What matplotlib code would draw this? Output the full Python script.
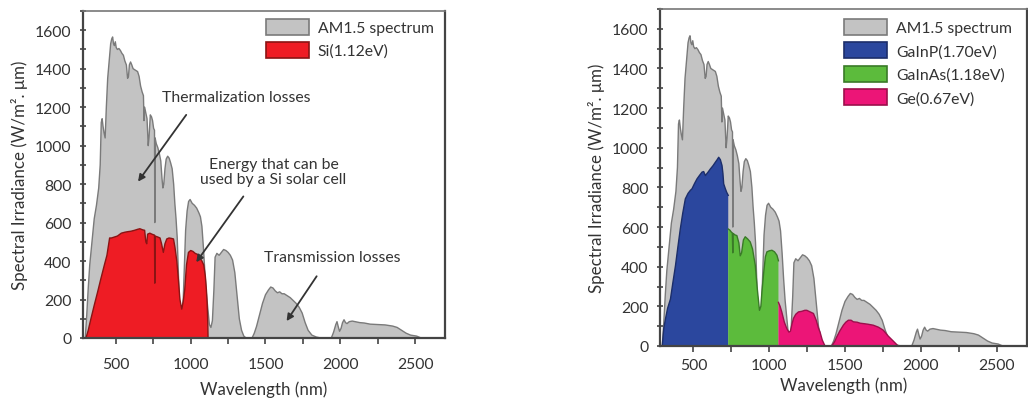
import matplotlib
matplotlib.use('Agg')
import matplotlib.pyplot as plt
from matplotlib.patches import Patch
from matplotlib.ticker import MultipleLocator
import numpy as np

plt.rcParams['font.family'] = ['Lato', 'DejaVu Sans']

# AM1.5 spectrum (nm, W/m2.um)
am_wl = [280, 295, 305, 315, 325, 340, 355, 370, 385, 395, 402, 408, 414, 420, 428, 436, 445, 455,
         465, 472, 478, 484, 490, 496, 502, 510, 520, 530, 540, 550, 560, 570, 578, 584, 590, 598,
         606, 615, 625, 635, 645, 655, 665, 675, 684, 688, 692, 700, 708, 716, 722, 730, 738, 745,
         752, 758, 760, 762, 770, 780, 790, 800, 808, 814, 820, 828, 836, 846, 856, 866, 876, 886,
         894, 902, 910, 918, 926, 934, 942, 950, 958, 966, 976, 986, 996, 1010, 1025, 1040, 1055,
         1065, 1075, 1085, 1095, 1105, 1115, 1125, 1135, 1145, 1155, 1163, 1175, 1190, 1205, 1220,
         1235, 1250, 1265, 1280, 1295, 1310, 1325, 1340, 1355, 1370, 1410, 1425, 1440, 1460, 1480,
         1500, 1520, 1535, 1550, 1565, 1580, 1595, 1610, 1625, 1645, 1665, 1685, 1705, 1725, 1745,
         1765, 1785, 1810, 1840, 1870, 1940, 1955, 1970, 1978, 1986, 1995, 2005, 2015, 2025, 2035,
         2045, 2060, 2080, 2100, 2130, 2160, 2200, 2250, 2300, 2350, 2380, 2410, 2440, 2470, 2510,
         2540, 2700]
am_val = [0, 0, 120, 260, 380, 500, 620, 690, 780, 900, 1120, 1140, 1100, 1070, 1040, 1200, 1350, 1440,
          1530, 1555, 1565, 1530, 1520, 1540, 1510, 1500, 1505, 1495, 1480, 1470, 1440, 1420, 1350, 1360, 1420, 1435,
          1420, 1400, 1395, 1390, 1385, 1360, 1310, 1280, 1260, 1130, 1200, 1170, 1140, 1000, 1050, 1160, 1150, 1130,
          1090, 1080, 600, 1040, 1010, 990, 960, 920, 830, 780, 800, 880, 930, 945, 935, 910, 880, 800,
          700, 620, 520, 330, 170, 150, 140, 200, 380, 560, 660, 710, 720, 700, 690, 675, 650,
          630, 580, 470, 340, 230, 150, 70, 55, 90, 250, 420, 440, 430, 445, 460,
          455, 445, 430, 405, 340, 220, 100, 40, 10, 0, 0, 25, 60, 120, 180,
          225, 250, 265, 260, 245, 235, 240, 230, 230, 220, 210, 195, 180, 160, 130,
          80, 40, 15, 5, 0, 0, 30, 70, 85, 60, 35, 50, 80, 95, 80,
          75, 85, 88, 85, 80, 78, 72, 70, 68, 62, 55, 40, 25, 15, 10,
          0, 0]

# Si (1.12 eV) usable part
si_wl = [300, 315, 333, 355, 378, 400, 423, 440, 450, 458, 470, 490, 510, 536, 560, 581, 600, 625, 645,
         660, 680, 692, 700, 706, 712, 727, 740, 750, 758, 760, 762, 780, 795, 805, 817, 828, 840, 855,
         870, 885, 895, 907, 918, 928, 940, 950, 960, 972, 985, 1000, 1015, 1030, 1045, 1060, 1075,
         1087, 1098, 1105, 1110, 1114, 1116]
si_val = [0, 40, 100, 170, 240, 310, 380, 430, 480, 520, 520, 525, 530, 545, 550, 553, 555, 560, 565,
          568, 562, 560, 500, 490, 540, 545, 540, 537, 535, 285, 530, 525, 520, 490, 445, 490, 515, 520,
          518, 515, 470, 400, 300, 200, 150, 190, 250, 380, 445, 455, 450, 440, 435, 420, 400,
          380, 320, 250, 180, 80, 0]

# GaInP (1.70 eV)
gainp_wl = [295, 305, 316, 330, 349, 365, 382, 398, 414, 430, 447, 465, 480, 491, 508, 524, 540, 557, 568,
            579, 595, 612, 630, 645, 657, 667, 678, 689, 695, 700, 711, 720, 730]
gainp_val = [0, 90, 136, 190, 237, 320, 405, 500, 591, 670, 742, 770, 785, 793, 820, 843, 860, 877, 880,
             860, 875, 893, 910, 927, 940, 952, 940, 910, 870, 818, 793, 775, 760]

# GaInAs (1.18 eV)
gainas_wl = [730, 740, 750, 757, 760, 762, 775, 787, 800, 809, 818, 830, 842, 858, 875, 890, 908, 920, 936,
             945, 952, 965, 975, 985, 1000, 1018, 1035, 1051, 1061]
gainas_val = [590, 585, 575, 570, 470, 568, 560, 557, 520, 455, 470, 535, 551, 540, 525, 490, 408, 300, 180,
              200, 272, 380, 450, 475, 480, 483, 475, 458, 430]

# Ge (0.67 eV)
ge_wl = [1061, 1072, 1083, 1100, 1116, 1130, 1140, 1150, 1160, 1175, 1193, 1215, 1235, 1248, 1270, 1292,
         1310, 1325, 1335, 1350, 1368, 1412, 1430, 1445, 1465, 1489, 1505, 1522, 1540, 1555, 1580, 1600,
         1621, 1650, 1686, 1720, 1752, 1785, 1818, 1840, 1850]
ge_val = [220, 200, 172, 120, 88, 70, 75, 110, 139, 160, 172, 175, 180, 180, 172, 164,
          130, 90, 71, 30, 0, 0, 20, 45, 75, 105, 120, 130, 130, 122, 120, 115,
          113, 110, 105, 95, 80, 50, 25, 8, 0]

GRAY, GRAY_E = '#c3c3c3', '#7a7a7a'
TXT = '#333333'
FS = 11.3


def fill(ax, wl, val, fc, ec, z):
    ax.fill_between(wl, 0, val, facecolor=fc, edgecolor='none', zorder=z)
    ax.plot(wl, val, color=ec, lw=1.0, zorder=z + 0.5)


def style(ax, xpad, lpad):
    ax.set_xlim(280, 2700)
    ax.set_ylim(0, 1700)
    ax.xaxis.set_major_locator(MultipleLocator(500))
    ax.xaxis.set_minor_locator(MultipleLocator(250))
    ax.yaxis.set_major_locator(MultipleLocator(200))
    ax.yaxis.set_minor_locator(MultipleLocator(100))
    ax.tick_params(axis='x', which='both', direction='out', length=4, width=1.2, colors='#444444',
                   labelcolor=TXT, labelsize=FS, pad=xpad)
    ax.tick_params(axis='y', which='both', direction='inout', length=5, width=1.2, colors='#444444',
                   labelcolor=TXT, labelsize=FS, pad=6)
    for s in ['left', 'bottom', 'right']:
        ax.spines[s].set_color('#444444')
        ax.spines[s].set_linewidth(1.6)
    ax.spines['top'].set_color('#777777')
    ax.spines['top'].set_linewidth(1.2)
    ax.set_xlabel('Wavelength (nm)', fontsize=12.2, color=TXT, labelpad=lpad)
    ax.set_ylabel('Spectral Irradiance (W/m². μm)', fontsize=12.2, color=TXT, labelpad=5)


fig = plt.figure(figsize=(10.28, 4.02), dpi=100)

# left panel: single Si cell
ax1 = fig.add_axes([83 / 1028, 1 - 339 / 402, 362 / 1028, 327 / 402])
fill(ax1, am_wl, am_val, GRAY, GRAY_E, 1)
fill(ax1, si_wl, si_val, '#ee1c24', '#8a1414', 2)
style(ax1, 10, 6.5)

arrow = dict(arrowstyle='-|>', color='#333333', lw=1.3, mutation_scale=10, shrinkA=0, shrinkB=0)
ax1.annotate('', xy=(648, 813), xytext=(970, 1160), arrowprops=arrow, zorder=5)
ax1.annotate('', xy=(1037, 394), xytext=(1352, 736), arrowprops=arrow, zorder=5)
ax1.annotate('', xy=(1641, 88), xytext=(1842, 321), arrowprops=arrow, zorder=5)
ax1.text(1305, 1254, 'Thermalization losses', ha='center', va='center', fontsize=FS, color=TXT)
ax1.text(1554, 866, 'Energy that can be\nused by a Si solar cell', ha='center', va='center',
         fontsize=FS, color=TXT, linespacing=1.05)
ax1.text(1943, 420, 'Transmission losses', ha='center', va='center', fontsize=FS, color=TXT)

leg = dict(loc='upper left', frameon=False, fontsize=FS, handlelength=2.75, handleheight=1.2,
           handletextpad=0.55, borderpad=0, borderaxespad=0, labelcolor=TXT)
h1 = [Patch(facecolor=GRAY, edgecolor=GRAY_E, lw=1.2, label='AM1.5 spectrum'),
      Patch(facecolor='#ee1c24', edgecolor='#8a1414', lw=1.2, label='Si(1.12eV)')]
fig.legend(handles=h1, bbox_to_anchor=(266 / 1028, 1 - 20 / 402), labelspacing=0.4, **leg)

# right panel: triple junction
ax2 = fig.add_axes([660 / 1028, 1 - 347 / 402, 367 / 1028, 337 / 402])
fill(ax2, am_wl, am_val, GRAY, GRAY_E, 1)
fill(ax2, gainp_wl, gainp_val, '#2b479e', '#1c2e6a', 2)
fill(ax2, gainas_wl, gainas_val, '#5cbb3c', '#3a7a28', 2)
fill(ax2, ge_wl, ge_val, '#ec1577', '#9c0f4c', 2)
style(ax2, 5, 3)

h2 = [Patch(facecolor=GRAY, edgecolor=GRAY_E, lw=1.2, label='AM1.5 spectrum'),
      Patch(facecolor='#2b479e', edgecolor='#1c2e6a', lw=1.2, label='GaInP(1.70eV)'),
      Patch(facecolor='#5cbb3c', edgecolor='#3a7a28', lw=1.2, label='GaInAs(1.18eV)'),
      Patch(facecolor='#ec1577', edgecolor='#9c0f4c', lw=1.2, label='Ge(0.67eV)')]
fig.legend(handles=h2, bbox_to_anchor=(844 / 1028, 1 - 20 / 402), labelspacing=0.45, **leg)

fig.savefig('out.png', dpi=100)
